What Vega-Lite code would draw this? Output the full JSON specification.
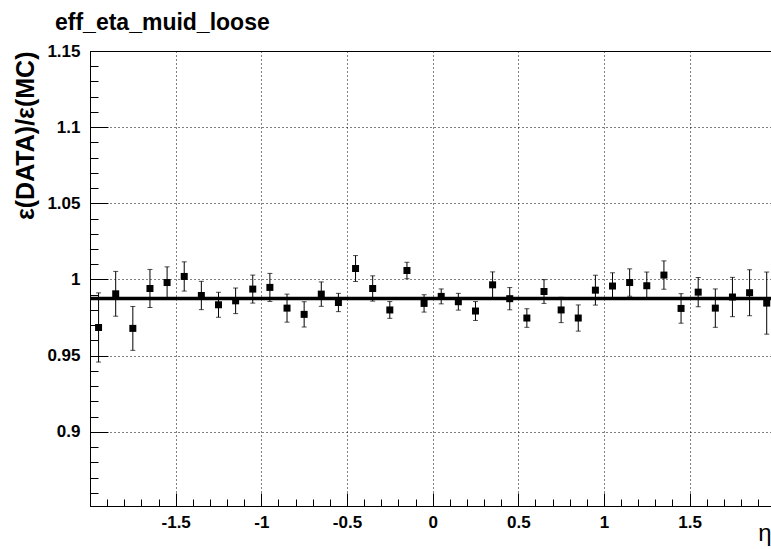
{
  "$schema": "https://vega.github.io/schema/vega-lite/v6.json",
  "autosize": {"type": "none"},
  "padding": {"left": 90, "top": 51, "right": 0, "bottom": 43},
  "width": 681,
  "height": 455,
  "background": "white",
  "title": {
    "text": "eff_eta_muid_loose",
    "anchor": "start",
    "frame": "group",
    "font": "Liberation Sans",
    "fontWeight": "bold",
    "fontSize": 23,
    "color": "black",
    "dx": -35,
    "offset": 7
  },
  "config": {
    "view": {"stroke": "black", "strokeWidth": 1},
    "axis": {
      "labelFont": "Liberation Sans",
      "labelFontWeight": "bold",
      "labelFontSize": 17,
      "labelColor": "black",
      "tickColor": "black",
      "domainColor": "black",
      "gridColor": "black",
      "gridDash": [1, 3],
      "gridOpacity": 1,
      "titleColor": "black"
    }
  },
  "datasets": {
    "pts": [
      {"eta": -1.95, "ratio": 0.9685, "lo": 0.9458, "hi": 0.9912},
      {"eta": -1.85, "ratio": 0.9906, "lo": 0.9759, "hi": 1.0053},
      {"eta": -1.75, "ratio": 0.9679, "lo": 0.9535, "hi": 0.9823},
      {"eta": -1.65, "ratio": 0.9941, "lo": 0.9816, "hi": 1.0066},
      {"eta": -1.55, "ratio": 0.998, "lo": 0.9877, "hi": 1.0083},
      {"eta": -1.45, "ratio": 1.002, "lo": 0.9924, "hi": 1.0116},
      {"eta": -1.35, "ratio": 0.9895, "lo": 0.9802, "hi": 0.9988},
      {"eta": -1.25, "ratio": 0.9834, "lo": 0.9752, "hi": 0.9916},
      {"eta": -1.15, "ratio": 0.986, "lo": 0.9776, "hi": 0.9944},
      {"eta": -1.05, "ratio": 0.9937, "lo": 0.9845, "hi": 1.0029},
      {"eta": -0.95, "ratio": 0.9948, "lo": 0.9856, "hi": 1.004},
      {"eta": -0.85, "ratio": 0.9812, "lo": 0.972, "hi": 0.9904},
      {"eta": -0.75, "ratio": 0.9771, "lo": 0.9688, "hi": 0.9854},
      {"eta": -0.65, "ratio": 0.9904, "lo": 0.9824, "hi": 0.9984},
      {"eta": -0.55, "ratio": 0.9849, "lo": 0.9789, "hi": 0.9909},
      {"eta": -0.45, "ratio": 1.0072, "lo": 0.9987, "hi": 1.0157},
      {"eta": -0.35, "ratio": 0.9941, "lo": 0.9858, "hi": 1.0024},
      {"eta": -0.25, "ratio": 0.98, "lo": 0.9745, "hi": 0.9855},
      {"eta": -0.15, "ratio": 1.0059, "lo": 1.0005, "hi": 1.0113},
      {"eta": -0.05, "ratio": 0.9843, "lo": 0.9786, "hi": 0.99},
      {"eta": 0.05, "ratio": 0.9889, "lo": 0.984, "hi": 0.9938},
      {"eta": 0.15, "ratio": 0.9854, "lo": 0.9799, "hi": 0.9909},
      {"eta": 0.25, "ratio": 0.9793, "lo": 0.9731, "hi": 0.9855},
      {"eta": 0.35, "ratio": 0.9965, "lo": 0.988, "hi": 1.005},
      {"eta": 0.45, "ratio": 0.9874, "lo": 0.9801, "hi": 0.9947},
      {"eta": 0.55, "ratio": 0.9747, "lo": 0.9686, "hi": 0.9808},
      {"eta": 0.65, "ratio": 0.9921, "lo": 0.9843, "hi": 0.9999},
      {"eta": 0.75, "ratio": 0.98, "lo": 0.9717, "hi": 0.9883},
      {"eta": 0.85, "ratio": 0.9747, "lo": 0.9661, "hi": 0.9833},
      {"eta": 0.95, "ratio": 0.993, "lo": 0.9832, "hi": 1.0028},
      {"eta": 1.05, "ratio": 0.9957, "lo": 0.987, "hi": 1.0044},
      {"eta": 1.15, "ratio": 0.998, "lo": 0.989, "hi": 1.007},
      {"eta": 1.25, "ratio": 0.9959, "lo": 0.9869, "hi": 1.0049},
      {"eta": 1.35, "ratio": 1.0029, "lo": 0.9936, "hi": 1.0122},
      {"eta": 1.45, "ratio": 0.981, "lo": 0.9713, "hi": 0.9907},
      {"eta": 1.55, "ratio": 0.9917, "lo": 0.9821, "hi": 1.0013},
      {"eta": 1.65, "ratio": 0.9812, "lo": 0.9686, "hi": 0.9938},
      {"eta": 1.75, "ratio": 0.9885, "lo": 0.9756, "hi": 1.0014},
      {"eta": 1.85, "ratio": 0.9913, "lo": 0.9762, "hi": 1.0064},
      {"eta": 1.95, "ratio": 0.9845, "lo": 0.9641, "hi": 1.0049}
    ],
    "fit": [{"p0": 0.9875}]
  },
  "resolve": {"axis": {"x": "independent", "y": "independent"}},
  "layer": [
    {
      "data": {"name": "pts"},
      "mark": {"type": "point", "opacity": 0},
      "encoding": {
        "x": {
          "field": "eta", "type": "quantitative",
          "scale": {"domain": [-2, 1.975], "nice": false, "zero": false},
          "axis": {
            "orient": "bottom",
            "values": [-1.9,-1.8,-1.7,-1.6,-1.5,-1.4,-1.3,-1.2,-1.1,-1,-0.9,-0.8,-0.7,-0.6,-0.5,-0.4,-0.3,-0.2,-0.1,0,0.1,0.2,0.3,0.4,0.5,0.6,0.7,0.8,0.9,1,1.1,1.2,1.3,1.4,1.5,1.6,1.7,1.8,1.9],
            "tickSize": -7, "labels": false, "domain": false, "grid": false, "title": null
          }
        },
        "y": {
          "field": "ratio", "type": "quantitative",
          "scale": {"domain": [0.8513, 1.15], "nice": false, "zero": false},
          "axis": {
            "orient": "left",
            "values": [0.86,0.87,0.88,0.89,0.9,0.91,0.92,0.93,0.94,0.95,0.96,0.97,0.98,0.99,1,1.01,1.02,1.03,1.04,1.05,1.06,1.07,1.08,1.09,1.1,1.11,1.12,1.13,1.14,1.15],
            "tickSize": -8, "labels": false, "domain": false, "grid": false, "title": null
          }
        }
      }
    },
    {
      "data": {"name": "pts"},
      "mark": {"type": "rule", "color": "black", "strokeWidth": 1},
      "encoding": {
        "x": {"field": "eta", "type": "quantitative", "axis": null},
        "y": {"field": "lo", "type": "quantitative", "axis": null},
        "y2": {"field": "hi"}
      }
    },
    {
      "data": {"name": "pts"},
      "mark": {"type": "tick", "orient": "horizontal", "color": "black", "size": 5, "thickness": 1},
      "encoding": {
        "x": {"field": "eta", "type": "quantitative", "axis": null},
        "y": {"field": "lo", "type": "quantitative", "axis": null}
      }
    },
    {
      "data": {"name": "pts"},
      "mark": {"type": "tick", "orient": "horizontal", "color": "black", "size": 5, "thickness": 1},
      "encoding": {
        "x": {"field": "eta", "type": "quantitative", "axis": null},
        "y": {"field": "hi", "type": "quantitative", "axis": null}
      }
    },
    {
      "data": {"name": "fit"},
      "mark": {"type": "rule", "color": "black", "strokeWidth": 3.5},
      "encoding": {
        "y": {"field": "p0", "type": "quantitative", "axis": null}
      }
    },
    {
      "data": {"name": "pts"},
      "mark": {"type": "square", "color": "black", "opacity": 1, "size": 49},
      "encoding": {
        "x": {
          "field": "eta", "type": "quantitative",
          "axis": {
            "orient": "bottom",
            "values": [-1.5,-1,-0.5,0,0.5,1,1.5],
            "labelExpr": "datum.value < 0 ? '-' + format(-datum.value, '~g') : format(datum.value, '~g')",
            "labelFont": "Liberation Sans",
            "labelFontWeight": "bold",
            "labelFontSize": 17,
            "tickSize": -13,
            "labelPadding": 21,
            "grid": true,
            "title": "η",
            "titleFont": "Liberation Sans",
            "titleFontWeight": "normal",
            "titleFontSize": 24,
            "titleAnchor": "end",
            "titleAlign": "right",
            "titlePadding": -9
          }
        },
        "y": {
          "field": "ratio", "type": "quantitative",
          "axis": {
            "orient": "left",
            "values": [0.9,0.95,1,1.05,1.1,1.15],
            "labelExpr": "format(datum.value, '~g')",
            "labelFont": "Liberation Sans",
            "labelFontWeight": "bold",
            "labelFontSize": 17,
            "tickSize": -18,
            "labelPadding": 28,
            "grid": true,
            "title": "ε(DATA)/ε(MC)",
            "titleFont": "Liberation Sans",
            "titleFontWeight": "bold",
            "titleFontSize": 25,
            "titleAnchor": "end",
            "titlePadding": 8
          }
        }
      }
    }
  ]
}
